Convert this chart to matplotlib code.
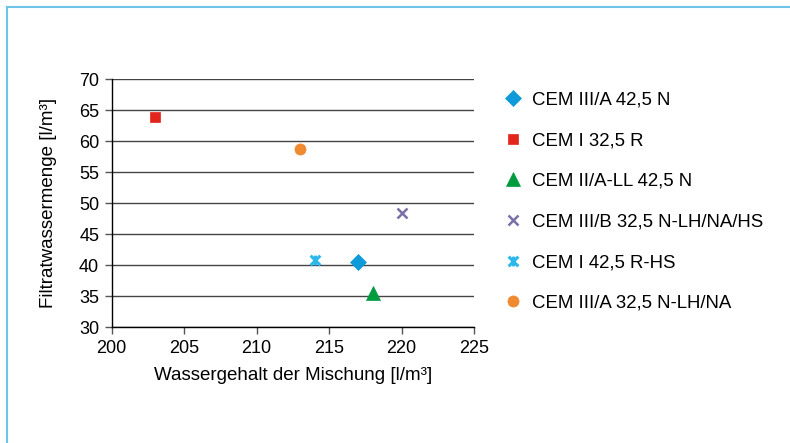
import matplotlib.pyplot as plt
from matplotlib.lines import Line2D
from matplotlib.path import Path

plt.rcParams['font.family'] = ['Liberation Sans', 'DejaVu Sans']

# Zementarten mit Wassergehalt und Filtratwassermenge
labels = ['CEM III/A 42,5 N', 'CEM I 32,5 R', 'CEM II/A-LL 42,5 N',
          'CEM III/B 32,5 N-LH/NA/HS', 'CEM I 42,5 R-HS', 'CEM III/A 32,5 N-LH/NA']
wasser = [217, 203, 218, 220, 214, 213]
filtrat = [40.6, 63.9, 35.5, 48.5, 40.8, 58.7]

colors = ['#0f9ad9', '#e2261c', '#009a3f', '#7b6fa8', '#2db8ec', '#ef8a30']

# Stern-Marker (X mit senkrechtem Strich)
star = Path([(-1, -1), (1, 1), (-1, 1), (1, -1), (0, -1), (0, 1)],
            [Path.MOVETO, Path.LINETO, Path.MOVETO, Path.LINETO, Path.MOVETO, Path.LINETO])
markers = ['D', 's', '^', 'x', star, 'o']
sizes = [8.5, 7.5, 10, 7, 7, 8]

fig = plt.figure(figsize=(7.9, 4.43), dpi=100)
ax = fig.add_axes([0.1414, 0.2612, 0.4586, 0.5598])

for x, y, lab, c, m, s in zip(wasser, filtrat, labels, colors, markers, sizes):
    thin = m == 'x' or m is star
    ax.plot(x, y, linestyle='none', marker=m, markersize=s, color=c,
            markeredgewidth=(2.2 if m is star else 1.8) if thin else 0.5, label=lab)

ax.set_xlim(200, 225)
ax.set_ylim(30, 70)
ax.set_xticks(range(200, 226, 5))
ax.set_yticks(range(30, 71, 5))
ax.tick_params(labelsize=13, direction='out', length=5, width=1, color='#555555', pad=4)
ax.yaxis.grid(True, color='#444444', linewidth=1)
ax.set_axisbelow(True)
for side in ('top', 'right'):
    ax.spines[side].set_visible(False)
for side in ('left', 'bottom'):
    ax.spines[side].set_color('black')
    ax.spines[side].set_linewidth(1)

ax.set_xlabel('Wassergehalt der Mischung [l/m³]', fontsize=13.5, labelpad=7)
ax.set_ylabel('Filtratwassermenge [l/m³]', fontsize=13.5, labelpad=16)

fig.legend(loc='upper left', bbox_to_anchor=(0.628, 0.81), frameon=False,
           fontsize=13.4, handlelength=1.0, handletextpad=0.55, labelspacing=1.27,
           borderaxespad=0)

# hellblauer Rahmen oben und links
fig.add_artist(Line2D([7 / 790, 1], [1 - 7 / 443] * 2, color='#6cc4ea', linewidth=1.5))
fig.add_artist(Line2D([7 / 790] * 2, [0, 1 - 7 / 443], color='#6cc4ea', linewidth=1.5))

fig.savefig('out.png', dpi=100)
